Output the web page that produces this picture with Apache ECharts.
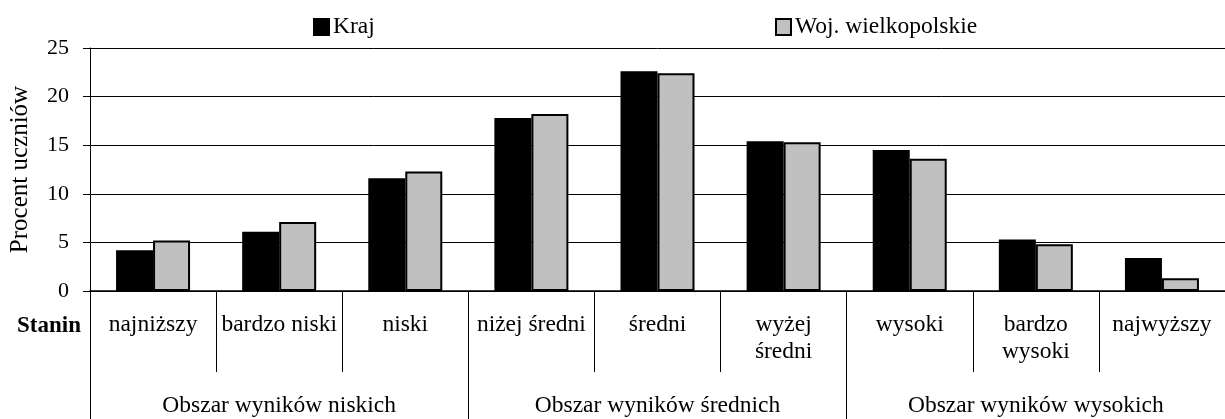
<!DOCTYPE html>
<html>
<head>
<meta charset="utf-8">
<script src="https://cdn.jsdelivr.net/npm/echarts@6/dist/echarts.min.js"></script>
<style>
  html, body { margin: 0; padding: 0; background: #fff; }
  #chart { width: 1225px; height: 419px; }
</style>
</head>
<body>
<div id="chart"></div>
<script>
// staniny i obszary wyników
const stanin = ["najniższy", "bardzo niski", "niski", "niżej średni", "średni",
  "wyżej\nśredni", "wysoki", "bardzo\nwysoki", "najwyższy"];
const obszary = ["Obszar wyników niskich", "Obszar wyników średnich", "Obszar wyników wysokich"];

// procent uczniów
const kraj = [4.2, 6.1, 11.6, 17.8, 22.6, 15.4, 14.5, 5.3, 3.4];
const woj = [5.2, 7.1, 12.3, 18.2, 22.4, 15.3, 13.6, 4.8, 1.3];

const yTicks = { min: 0, max: 25, interval: 5 };

const font = "Liberation Serif, Times New Roman, serif";

let myChart = echarts.init(document.getElementById("chart"));
myChart.setOption({
  animation: false,
  textStyle: { fontFamily: font, color: "#000" },
  legend: [
    {
      left: 308, top: 10,
      itemWidth: 15, itemHeight: 16, itemGap: 0,
      icon: "rect",
      data: ["Kraj"],
      textStyle: { fontFamily: font, fontSize: 23.5, color: "#000", padding: [0, 0, 0, -1] },
    },
    {
      left: 770, top: 10,
      itemWidth: 15, itemHeight: 16, itemGap: 0,
      icon: "rect",
      data: ["Woj. wielkopolskie"],
      textStyle: { fontFamily: font, fontSize: 23.5, color: "#000", padding: [0, 0, 0, -1] },
    },
  ],
  grid: { left: 89, right: -9, top: 48, bottom: 128, containLabel: false },
  xAxis: [
    {
      type: "category",
      data: stanin,
      axisLine: { show: true, lineStyle: { color: "#000", width: 1.5 } },
      axisTick: { show: true, length: 81, interval: 0, lineStyle: { color: "#000", width: 1 } },
      axisLabel: {
        interval: 0, margin: 20,
        fontFamily: font, fontSize: 23.5, lineHeight: 27, color: "#000",
      },
    },
    {
      type: "category",
      data: obszary,
      position: "bottom",
      axisLine: { show: false },
      axisTick: { show: true, length: 132, interval: 0, lineStyle: { color: "#000", width: 1 } },
      axisLabel: {
        interval: 0, margin: 103,
        fontFamily: font, fontSize: 23.5, color: "#000",
      },
    },
  ],
  yAxis: {
    type: "value",
    min: yTicks.min, max: yTicks.max, interval: yTicks.interval,
    name: "Procent uczniów",
    nameLocation: "middle",
    nameRotate: 90,
    nameGap: 57,
    nameTextStyle: { fontFamily: font, fontSize: 25, color: "#000" },
    axisLine: { show: true, lineStyle: { color: "#000", width: 1 } },
    axisTick: { show: true, length: 7, lineStyle: { color: "#000" } },
    axisLabel: { margin: 21, fontFamily: font, fontSize: 22, color: "#000" },
    splitLine: { show: true, lineStyle: { color: "#000", width: 1 } },
  },
  graphic: [
    {
      type: "text",
      x: 81, y: 326,
      style: {
        text: "Stanin",
        font: "bold 23px " + font,
        fill: "#000",
        textAlign: "right",
        textVerticalAlign: "middle",
      },
    },
  ],
  series: [
    {
      name: "Kraj",
      type: "bar",
      xAxisIndex: 0,
      barWidth: 37,
      barGap: "0%",
      itemStyle: { color: "#000", borderColor: "#000", borderWidth: 2 },
      data: kraj,
    },
    {
      name: "Woj. wielkopolskie",
      type: "bar",
      xAxisIndex: 0,
      barWidth: 37,
      barGap: "0%",
      itemStyle: { color: "#c0c0c0", borderColor: "#000", borderWidth: 2 },
      data: woj,
    },
  ],
});
</script>
</body>
</html>
